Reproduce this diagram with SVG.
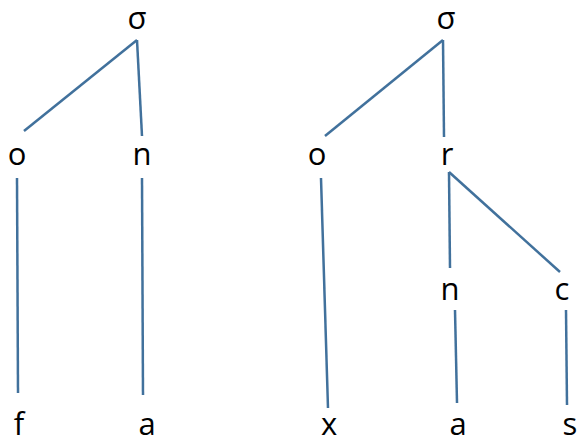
<svg xmlns="http://www.w3.org/2000/svg" width="579" height="438" viewBox="0 0 579 438">
<style>
text{font-family:"Open Sans","Noto Sans",sans-serif;font-size:31px;fill:#000;text-anchor:middle}
line{stroke:#41719c;stroke-width:2.5;stroke-linecap:butt}
</style>
<rect width="579" height="438" fill="#fff"/>
<g id="connectors">
<line x1="137" y1="40" x2="24" y2="131"/>
<line x1="137" y1="40" x2="142" y2="136"/>
<line x1="17" y1="178" x2="18" y2="393"/>
<line x1="142" y1="178" x2="143" y2="395"/>
<line x1="443" y1="40" x2="325" y2="136"/>
<line x1="443" y1="40" x2="444" y2="137"/>
<line x1="449" y1="172" x2="450" y2="268"/>
<line x1="449" y1="172" x2="560" y2="272"/>
<line x1="321" y1="178" x2="328" y2="408"/>
<line x1="455" y1="310" x2="457" y2="403"/>
<line x1="566" y1="310" x2="567" y2="405"/>
</g>
<g id="n-sigma1"><text x="137" y="29">σ</text></g>
<g id="n-o1"><text x="17" y="165">o</text></g>
<g id="n-n1"><text x="142" y="165">n</text></g>
<g id="n-f"><text x="19" y="435">f</text></g>
<g id="n-a1"><text x="147" y="435">a</text></g>
<g id="n-sigma2"><text x="446" y="29">σ</text></g>
<g id="n-o2"><text x="317" y="165">o</text></g>
<g id="n-r"><text x="447" y="165">r</text></g>
<g id="n-n2"><text x="450" y="300">n</text></g>
<g id="n-c"><text x="562" y="300">c</text></g>
<g id="n-x"><text x="329" y="435">x</text></g>
<g id="n-a2"><text x="458" y="435">a</text></g>
<g id="n-s"><text x="570" y="435">s</text></g>
</svg>
